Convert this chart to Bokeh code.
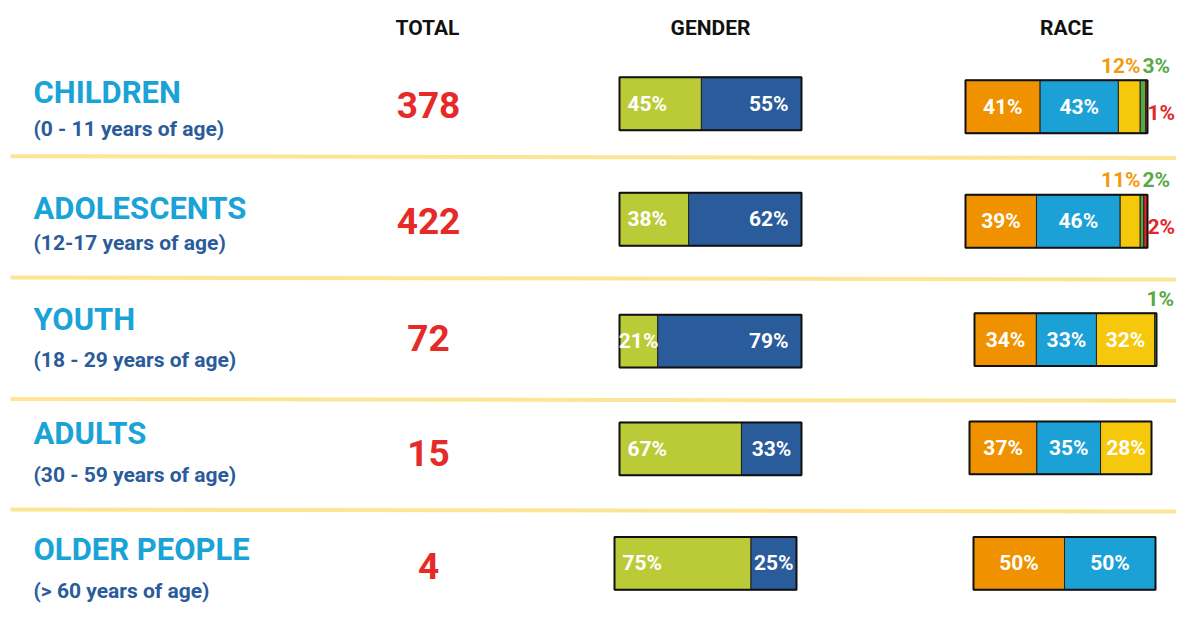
from bokeh.plotting import figure
from bokeh.models import Range1d
from bokeh.core.properties import value
from bokeh.embed import file_html
from bokeh.resources import INLINE

# ---------------- data ----------------
groups = ["CHILDREN", "ADOLESCENTS", "YOUTH", "ADULTS", "OLDER PEOPLE"]
ages = ["(0 - 11 years of age)", "(12-17 years of age)", "(18 - 29 years of age)",
        "(30 - 59 years of age)", "(>  60 years of age)"]
totals = [378, 422, 72, 15, 4]
gender_green = [45, 38, 21, 67, 75]
gender_blue = [55, 62, 79, 33, 25]
race_orange = [41, 39, 34, 37, 50]
race_blue = [43, 46, 33, 35, 50]
race_yellow = [12, 11, 32, 28, 0]
race_green = [3, 2, 1, 0, 0]
race_red = [1, 2, 0, 0, 0]
headers = ["TOTAL", "GENDER", "RACE"]

# ---------------- layout / style ----------------
W, H = 1176, 603
title_y = [94, 212, 326, 442, 561]
sub_y = [131, 248, 367, 485, 603]
total_y = [107, 225, 345, 462, 578]
gender_y = [105.5, 223.5, 348, 458, 575]
gender_x0 = [619, 619, 619, 619, 614]
race_y = [108.5, 225.5, 346.5, 457, 575]
race_x0 = [965, 965, 974, 969, 973]
sep_y = [160, 284, 408, 521]
header_x = [427, 710, 1066]
header_yy = 28
LEFT_X = 33
TOTAL_X = 428
BAR_W = 182
BAR_H = 54

C_TITLE = "#1AA3D7"
C_SUB = "#2A5B9A"
C_TOTAL = "#E52A27"
C_GGREEN = "#BBCB37"
C_GBLUE = "#2A5B9A"
C_ORANGE = "#F09200"
C_RBLUE = "#1BA1D6"
C_YELLOW = "#F5C80C"
C_GREEN = "#58A845"
C_RED = "#E3262A"
C_SEP = "#FCE38A"

FONT = value("Roboto")

p = figure(width=W, height=H, x_range=Range1d(0, W), y_range=Range1d(616, 0),
           output_backend="svg", toolbar_location=None, x_axis_type=None, y_axis_type=None,
           min_border=0, outline_line_color=None, background_fill_color="white",
           border_fill_color="white")

# separators
for y in sep_y:
    p.line([10, 1192], [y - 1, y + 1], line_color=C_SEP, line_width=4, line_alpha=0.9)

# headers
p.text(x=header_x, y=[header_yy] * 3, text=headers, text_font=FONT, text_font_style="bold",
       text_font_size="21px", text_align="center", text_baseline="middle", text_color="#111111")

# titles
p.text(x=[LEFT_X] * 5, y=title_y, text=groups, text_font=FONT, text_font_style="bold",
       text_font_size="31px", text_align="left", text_baseline="middle", text_color=C_TITLE)
p.text(x=[LEFT_X] * 5, y=sub_y, text=ages, text_font=FONT, text_font_style="bold",
       text_font_size="21px", text_align="left", text_baseline="middle", text_color=C_SUB)
p.text(x=[TOTAL_X] * 5, y=total_y, text=[str(t) for t in totals], text_font=FONT,
       text_font_style="bold", text_font_size="37px", text_align="center",
       text_baseline="middle", text_color=C_TOTAL)

LABEL_SIZE = "21px"

# ---------------- gender bars ----------------
gl, gr, gt, gb, gc = [], [], [], [], []
glab_x, glab_y, glab_t, glab_a = [], [], [], []
for i in range(5):
    x0 = gender_x0[i]
    xs = x0 + gender_green[i] / 100 * BAR_W
    xe = x0 + BAR_W
    top, bot = gender_y[i] - BAR_H / 2, gender_y[i] + BAR_H / 2
    gl += [x0, xs]; gr += [xs, xe]; gt += [top, top]; gb += [bot, bot]
    gc += [C_GGREEN, C_GBLUE]
    if gender_green[i] < 25:
        glab_x.append((x0 + xs) / 2); glab_a.append("center")
    else:
        glab_x.append(x0 + 8); glab_a.append("left")
    glab_y.append(gender_y[i]); glab_t.append(f"{gender_green[i]}%")
    if gender_blue[i] < 35:
        glab_x.append((xs + xe) / 2); glab_a.append("center")
    else:
        glab_x.append(xe - 13); glab_a.append("right")
    glab_y.append(gender_y[i]); glab_t.append(f"{gender_blue[i]}%")

p.quad(left=gl, right=gr, top=gt, bottom=gb, fill_color=gc, line_color="#222222", line_width=1)
p.quad(left=gender_x0, right=[x + BAR_W for x in gender_x0],
       top=[y - BAR_H / 2 for y in gender_y], bottom=[y + BAR_H / 2 for y in gender_y],
       fill_color=None, line_color="#111111", line_width=2)
p.text(x=glab_x, y=glab_y, text=glab_t, text_align=glab_a, text_font=FONT,
       text_font_style="bold", text_font_size=LABEL_SIZE, text_baseline="middle",
       text_color="white")

# ---------------- race bars ----------------
race_series = [race_orange, race_blue, race_yellow, race_green, race_red]
race_colors = [C_ORANGE, C_RBLUE, C_YELLOW, C_GREEN, C_RED]
rl, rr, rt, rb, rc = [], [], [], [], []
in_x, in_y, in_t = [], [], []
out_x, out_y, out_t, out_c, out_a = [], [], [], [], []
for i in range(5):
    x0 = race_x0[i]
    top, bot = race_y[i] - BAR_H / 2, race_y[i] + BAR_H / 2
    cum = 0
    end = x0 + BAR_W
    for s, col in zip(race_series, race_colors):
        v = s[i]
        if v == 0:
            continue
        a = x0 + cum / 100 * BAR_W
        cum += v
        b = x0 + cum / 100 * BAR_W
        rl.append(a); rr.append(b); rt.append(top); rb.append(bot); rc.append(col)
        if v >= 15:
            in_x.append((a + b) / 2); in_y.append(race_y[i]); in_t.append(f"{v}%")
    gx = min(end - 5, W - 30)
    if race_green[i]:
        out_x.append(gx); out_y.append(top - 15); out_t.append(f"{race_green[i]}%")
        out_c.append(C_GREEN); out_a.append("left")
    if 0 < race_yellow[i] < 15:
        out_x.append(gx - 2); out_y.append(top - 15); out_t.append(f"{race_yellow[i]}%")
        out_c.append("#F39A0C"); out_a.append("right")
    if race_red[i]:
        out_x.append(min(end + 2, W - 29)); out_y.append(race_y[i] + 6)
        out_t.append(f"{race_red[i]}%"); out_c.append(C_RED); out_a.append("left")

p.quad(left=rl, right=rr, top=rt, bottom=rb, fill_color=rc, line_color="#222222", line_width=1)
p.quad(left=race_x0, right=[x + BAR_W for x in race_x0],
       top=[y - BAR_H / 2 for y in race_y], bottom=[y + BAR_H / 2 for y in race_y],
       fill_color=None, line_color="#111111", line_width=2)
p.text(x=in_x, y=in_y, text=in_t, text_align="center", text_font=FONT,
       text_font_style="bold", text_font_size=LABEL_SIZE, text_baseline="middle",
       text_color="white")
p.text(x=out_x, y=out_y, text=out_t, text_align=out_a, text_color=out_c, text_font=FONT,
       text_font_style="bold", text_font_size=LABEL_SIZE, text_baseline="middle")

open("out.html", "w").write(file_html(p, INLINE))
